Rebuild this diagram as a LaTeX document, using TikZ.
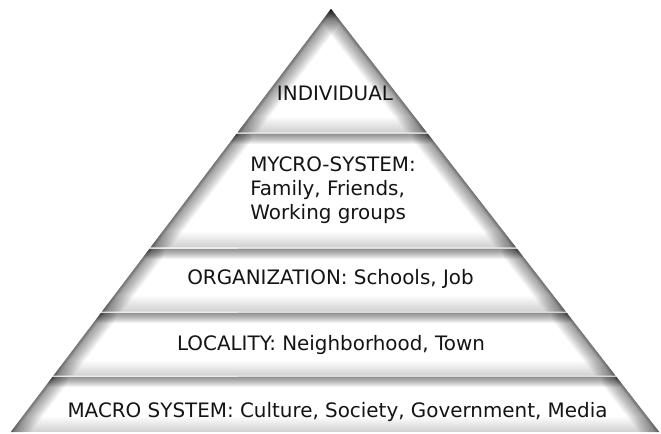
\documentclass[tikz,border=0pt]{standalone}
\usepackage{fontspec}
\setmainfont{DejaVu Sans}
\newcommand\pyrlayer[3]{%
  % #1 = top y, #2 = bottom y, #3 = name
  \coordinate (#3-tl) at ({331-0.757*(#1-9)},#1);
  \coordinate (#3-tr) at ({331+0.776*(#1-9)},#1);
  \coordinate (#3-br) at ({331+0.776*(#2-9)},#2);
  \coordinate (#3-bl) at ({331-0.757*(#2-9)},#2);
  \begin{scope}
    \clip (#3-tl) -- (#3-tr) -- (#3-br) -- (#3-bl) -- cycle;
    \fill[white] (#3-tl) -- (#3-tr) -- (#3-br) -- (#3-bl) -- cycle;
    \foreach \k in {1,...,10}{
      \draw[topglow, line width=\k*2bp] (#3-tl) -- (#3-tr);
    }
    \foreach \k in {1,...,15}{
      \draw[botglow, line width=\k*2bp] (#3-bl) -- (#3-br);
    }
    \foreach \k in {1,...,16}{
      \draw[sideglow, line width=\k*2bp] (#3-tl) -- (#3-bl);
      \draw[sideglow, line width=\k*2bp] (#3-tr) -- (#3-br);
    }
    \foreach \k in {1,...,3}{
      \draw[edgeglow, line width=\k*2bp] (#3-tl) -- (#3-bl);
      \draw[edgeglow, line width=\k*2bp] (#3-tr) -- (#3-br);
    }
  \end{scope}}
\begin{document}
\begin{tikzpicture}[x=1bp,y=-1bp,
  sideglow/.style={black, opacity=0.032, line cap=round},
  edgeglow/.style={black, opacity=0.07, line cap=round},
  topglow/.style={black, opacity=0.05, line cap=round},
  botglow/.style={black, opacity=0.012, line cap=round},
  lbl/.style={font=\fontsize{19.9bp}{24bp}\selectfont, text=black!92, inner sep=0pt}]
\useasboundingbox (0,0) rectangle (661,434);
\fill[black!8] ({331-0.757*(132.5-9)},132.5) rectangle ({331+0.776*(376.5-9)},376.5);
\fill[white] (0,0) -- (331,9) -- ({331-0.757*(432-9)},432) -- (0,434) -- cycle;
\fill[white] (661,0) -- (331,9) -- ({331+0.776*(432-9)},432) -- (661,434) -- cycle;
\fill[white] (0,0) rectangle (661,131);
\pyrlayer{9}{132.5}{l1}
\pyrlayer{133.8}{247.5}{l2}
\pyrlayer{248.8}{311.5}{l3}
\pyrlayer{312.8}{375.5}{l4}
\pyrlayer{376.8}{432}{l5}
\node[lbl, anchor=base] (individual) at (335,100.7) {INDIVIDUAL};
\node[lbl, align=left] (mycro) at (333,190.5) {MYCRO-SYSTEM:\\Family, Friends,\\Working groups};
\node[lbl, anchor=base] (organization) at (330.5,285) {ORGANIZATION: Schools, Job};
\node[lbl, anchor=base] (locality) at (331,350.7) {LOCALITY: Neighborhood, Town};
\node[lbl, anchor=base] (macro) at (337.5,417.3) {MACRO SYSTEM: Culture, Society, Government, Media};
\end{tikzpicture}
\end{document}
